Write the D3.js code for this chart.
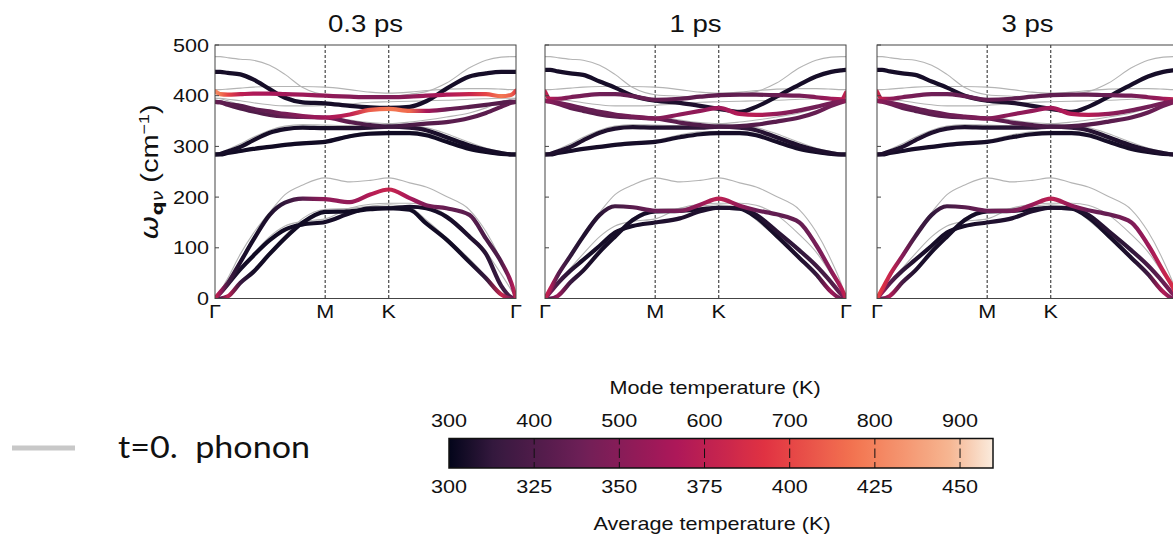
<!DOCTYPE html>
<html lang="en">
<head>
    <meta charset="UTF-8">
    <title>Phonon dispersion vs mode temperature</title>
    <script src="https://d3js.org/d3.v7.min.js"></script>
    <style>
        body { margin: 0; background: #fff; }
        svg { display: block; font-family: "Liberation Sans", Arial, sans-serif; }
    </style>
</head>
<body>
<div id="chart"></div>
<script>
// path coordinate: Γ = 0, M = 0.866, K = 1.366, Γ = 2.366
const qNodes = [0, 0.04, 0.1, 0.2, 0.3, 0.43, 0.55, 0.69, 0.866, 1.06, 1.22, 1.366, 1.53, 1.66, 1.82, 2.0, 2.13, 2.25, 2.33, 2.366];
const qTicks = [0, 0.866, 1.366, 2.366];
const qTickLabels = ["Γ", "M", "K", "Γ"];
const freqTicks = [0, 100, 200, 300, 400, 500];
const panelTitles = ["0.3 ps", "1 ps", "3 ps"];

// t = 0 phonon bands (thin gray)
const t0ZA  = [0, 0, 5, 34, 56, 92, 124, 158, 176, 178, 182, 185, 180, 155, 120, 78, 44, 12, 0, 0];
const t0TA  = [0, 11, 30, 60, 88, 122, 143, 152, 157, 178, 186, 188, 188, 184, 165, 126, 92, 48, 16, 0];
const t0LA  = [0, 14, 40, 88, 128, 170, 205, 224, 238, 230, 233, 238, 228, 220, 201, 175, 132, 75, 28, 0];
const t0Eb  = [287, 287, 289, 293, 297, 301, 305, 309, 312, 323, 329, 330, 330, 326, 314, 300, 292, 288, 287, 287];
const t0Ea  = [287, 288, 294, 305, 318, 332, 340, 343, 342, 341, 341, 342, 341, 337, 325, 308, 297, 290, 287, 287];
const t0Ed  = [395, 394, 390, 382, 375, 368, 363, 360, 359, 352, 347, 345, 348, 352, 358, 366, 376, 388, 393, 395];
const t0Ec  = [395, 395, 393, 390, 386, 382, 380, 380, 381, 384, 387, 388, 389, 390, 391, 393, 394, 395, 395, 395];
const t0A1  = [412, 412, 413, 415, 417, 418, 418, 418, 417, 412, 407, 405, 407, 410, 413, 414, 414, 413, 412, 412];
const t0A2  = [477, 477, 475, 472, 470, 460, 442, 416, 402, 399, 398, 398, 403, 408, 425, 455, 470, 476, 477, 477];

// bands at 0.3 ps
const za03 = [0, 0, 4, 31, 52, 88, 119, 150, 171, 172, 176, 178, 175, 148, 116, 72, 40, 8, 0, 0];
const ta03 = [0, 10, 28, 58, 84, 115, 136, 146, 151, 168, 178, 178, 181, 178, 161, 122, 88, 25, 2, 0];
const la03 = [0, 12, 30, 72, 115, 165, 189, 197, 196, 190, 205, 215, 198, 184, 178, 165, 118, 72, 30, 0];
const eb03 = [284, 284, 287, 291, 295, 299, 303, 306, 309, 320, 325, 326, 326, 322, 309, 295, 289, 285, 284, 284];
const ea03 = [284, 285, 290, 299, 312, 327, 334, 337, 336, 336, 337, 339, 337, 332, 318, 302, 293, 287, 284, 284];
const ed03 = [388, 387, 382, 375, 369, 362, 359, 358, 357, 348, 342, 339, 342, 345, 348, 356, 366, 378, 386, 388];
const ec03 = [388, 387, 384, 380, 374, 369, 364, 360, 357, 363, 372, 374, 370, 370, 373, 378, 382, 386, 388, 388];
const a103 = [409, 403, 402, 403, 404, 404, 403, 402, 400, 398, 397, 397, 398, 400, 402, 403, 403, 399, 402, 410];
const a203 = [447, 447, 445, 442, 432, 413, 396, 387, 385, 380, 377, 376, 378, 389, 414, 438, 444, 447, 447, 447];

// bands at 1 ps and 3 ps
const zaLate = [0, 0, 5, 32, 55, 92, 122, 155, 172, 173, 176, 179, 177, 160, 124, 80, 48, 13, 0, 0];
const taLate = [0, 12, 30, 55, 76, 104, 130, 143, 150, 158, 172, 179, 178, 165, 133, 95, 65, 32, 8, 0];
const laLate = [0, 18, 46, 84, 122, 165, 182, 180, 173, 173, 185, 197, 183, 174, 166, 150, 106, 54, 20, 0];
const ebLate = [284, 284, 287, 291, 295, 299, 303, 306, 309, 318, 324, 326, 326, 322, 309, 295, 289, 285, 284, 284];
const eaLate = [284, 285, 290, 299, 312, 327, 335, 338, 337, 337, 337, 339, 337, 332, 318, 302, 293, 287, 284, 284];
const edLate = [390, 388, 384, 376, 370, 363, 359, 357, 355, 347, 342, 339, 340, 343, 349, 357, 367, 380, 387, 390];
const ecLate = [390, 389, 386, 381, 375, 368, 363, 359, 355, 363, 370, 376, 364, 362, 364, 371, 378, 385, 389, 390];
const a1Late = [408, 394, 394, 397, 400, 403, 403, 399, 392, 394, 398, 401, 402, 402, 401, 400, 397, 394, 393, 406];
const a2Late = [451, 451, 448, 444, 441, 428, 416, 400, 390, 386, 380, 374, 368, 378, 398, 422, 438, 447, 450, 451];

// mode temperatures (K) along each band
const tZa03 = [400, 400, 600, 360, 320, 315, 315, 315, 315, 315, 315, 315, 315, 315, 315, 320, 350, 620, 480, 400];
const tTa03 = [580, 460, 340, 320, 315, 315, 315, 315, 320, 320, 320, 320, 320, 320, 320, 330, 340, 360, 400, 430];
const tLa03 = [620, 540, 380, 330, 320, 330, 350, 420, 520, 520, 580, 620, 560, 480, 440, 420, 390, 400, 540, 620];
const tEb03 = [315, 315, 315, 315, 315, 315, 315, 315, 315, 315, 315, 315, 315, 315, 315, 315, 315, 315, 315, 315];
const tEa03 = [320, 320, 320, 320, 320, 320, 320, 320, 320, 330, 340, 350, 340, 330, 320, 320, 320, 320, 320, 320];
const tEd03 = [440, 430, 410, 400, 400, 410, 430, 460, 480, 420, 390, 370, 390, 410, 420, 420, 420, 430, 440, 440];
const tEc03 = [440, 430, 420, 410, 420, 440, 470, 510, 550, 600, 740, 780, 760, 560, 450, 420, 410, 410, 420, 440];
const tA103 = [820, 780, 700, 600, 570, 560, 550, 540, 520, 500, 490, 490, 510, 540, 570, 620, 700, 780, 740, 680];
const tA203 = [320, 320, 320, 320, 320, 320, 320, 320, 320, 320, 320, 320, 320, 320, 320, 320, 320, 320, 320, 320];

const tZa1 = [420, 420, 540, 360, 330, 320, 320, 320, 320, 320, 320, 320, 320, 320, 320, 330, 350, 540, 440, 400];
const tTa1 = [560, 480, 380, 340, 320, 320, 320, 320, 330, 330, 330, 330, 330, 330, 340, 350, 370, 400, 460, 500];
const tLa1 = [620, 580, 420, 350, 330, 340, 380, 420, 450, 470, 530, 600, 520, 450, 430, 440, 470, 500, 580, 620];
const tEb1 = [320, 320, 320, 320, 320, 320, 320, 320, 320, 320, 320, 320, 320, 320, 320, 320, 320, 320, 320, 320];
const tEa1 = [330, 330, 330, 330, 330, 330, 330, 330, 330, 340, 350, 360, 350, 340, 330, 330, 330, 330, 330, 330];
const tEd1 = [480, 470, 450, 430, 420, 420, 420, 430, 440, 420, 400, 390, 400, 410, 420, 430, 440, 460, 470, 480];
const tEc1 = [520, 500, 470, 450, 440, 440, 450, 470, 490, 510, 520, 540, 580, 590, 520, 470, 460, 470, 490, 520];
const tA11 = [620, 580, 520, 480, 470, 460, 450, 440, 440, 430, 430, 430, 435, 440, 450, 470, 500, 540, 580, 620];
const tA21 = [320, 320, 320, 320, 320, 320, 320, 330, 330, 330, 330, 330, 330, 320, 320, 320, 320, 320, 320, 320];

const tZa3 = [450, 430, 580, 380, 330, 320, 320, 320, 320, 320, 320, 320, 320, 320, 320, 330, 370, 580, 460, 420];
const tTa3 = [620, 540, 420, 350, 330, 320, 320, 320, 330, 330, 330, 330, 330, 330, 340, 350, 390, 440, 500, 540];
const tLa3 = [700, 660, 620, 500, 380, 350, 380, 420, 450, 470, 530, 600, 520, 450, 440, 480, 540, 610, 650, 680];
const tEb3 = [320, 320, 320, 320, 320, 320, 320, 320, 320, 320, 320, 320, 320, 320, 320, 320, 320, 320, 320, 320];
const tEa3 = [330, 330, 330, 330, 330, 330, 330, 330, 330, 340, 350, 360, 350, 340, 330, 330, 330, 330, 330, 330];
const tEd3 = [480, 470, 450, 430, 420, 420, 420, 430, 440, 420, 400, 390, 400, 410, 420, 430, 440, 460, 470, 480];
const tEc3 = [520, 500, 470, 450, 440, 440, 450, 470, 490, 510, 520, 550, 580, 590, 520, 470, 460, 470, 490, 520];
const tA13 = [640, 600, 520, 480, 470, 460, 450, 440, 440, 430, 430, 430, 435, 440, 450, 470, 500, 540, 600, 640];
const tA23 = [320, 320, 320, 320, 320, 320, 320, 330, 330, 330, 330, 330, 330, 320, 320, 320, 320, 320, 320, 320];

// colour bar
const modeTicks = [300, 400, 500, 600, 700, 800, 900];
const avgTicks = [300, 325, 350, 375, 400, 425, 450];
const modeRange = [300, 938.7];
const avgRange = [300, 459.7];

// seaborn "rocket"
const rocketColors = ["#03051a", "#35193e", "#701f57", "#ad1759", "#e13342", "#f37651", "#f6b48f", "#faebdd"];
const rocketPos = [0, 0.083, 0.25, 0.417, 0.583, 0.75, 0.917, 1];

const t0Bands = [t0ZA, t0TA, t0LA, t0Eb, t0Ea, t0Ed, t0Ec, t0A1, t0A2];
const panels = [
    { title: panelTitles[0], left: 215, bands: [za03, ta03, la03, eb03, ea03, ed03, ec03, a103, a203],
      temps: [tZa03, tTa03, tLa03, tEb03, tEa03, tEd03, tEc03, tA103, tA203] },
    { title: panelTitles[1], left: 545, bands: [zaLate, taLate, laLate, ebLate, eaLate, edLate, ecLate, a1Late, a2Late],
      temps: [tZa1, tTa1, tLa1, tEb1, tEa1, tEd1, tEc1, tA11, tA21] },
    { title: panelTitles[2], left: 877, bands: [zaLate, taLate, laLate, ebLate, eaLate, edLate, ecLate, a1Late, a2Late],
      temps: [tZa3, tTa3, tLa3, tEb3, tEa3, tEd3, tEc3, tA13, tA23] }
];

const width = 1173, height = 537;
const panelTop = 45, panelW = 301, panelH = 253.5;
const SX = 1.2; // text in the figure is a bit wider than normal

const color = d3.scaleLinear()
    .domain(rocketPos.map(p => modeRange[0] + p * (modeRange[1] - modeRange[0])))
    .range(rocketColors)
    .interpolate(d3.interpolateRgb)
    .clamp(true);

const svg = d3.select("#chart").append("svg")
    .attr("width", width)
    .attr("height", height);
const defs = svg.append("defs");

function addText(parent, x, y, str, size, anchor) {
    return parent.append("text")
        .attr("transform", `translate(${x},${y}) scale(${SX},1)`)
        .attr("text-anchor", anchor || "middle")
        .attr("font-size", size)
        .attr("fill", "#111")
        .text(str);
}

const x = d3.scaleLinear().domain([0, 2.366]).range([0, panelW]);
const y = d3.scaleLinear().domain([0, 500]).range([panelH, 0]);
const line = d3.line()
    .x(d => x(d[0]))
    .y(d => y(d[1]))
    .curve(d3.curveMonotoneX);

panels.forEach((p, pi) => {
    const g = svg.append("g").attr("transform", `translate(${p.left},${panelTop})`);

    defs.append("clipPath").attr("id", "clip" + pi)
        .append("rect").attr("width", panelW).attr("height", panelH);

    addText(svg, p.left + panelW / 2, 31.5, p.title, 23);

    const plot = g.append("g").attr("clip-path", `url(#clip${pi})`);

    // high-symmetry lines
    plot.selectAll("line.sym")
        .data(qTicks.slice(1, 3))
        .enter().append("line")
        .attr("x1", d => x(d)).attr("x2", d => x(d))
        .attr("y1", 0).attr("y2", panelH)
        .attr("stroke", "#222")
        .attr("stroke-width", 1)
        .attr("stroke-dasharray", "3,2");

    // t = 0 bands
    plot.selectAll("path.t0")
        .data(t0Bands)
        .enter().append("path")
        .attr("d", b => line(b.map((f, i) => [qNodes[i], f])))
        .attr("fill", "none")
        .attr("stroke", "#b4b4b4")
        .attr("stroke-width", 1.1);

    // coloured bands, cooler ones underneath
    const order = d3.range(p.bands.length).sort((a, b) => d3.mean(p.temps[a]) - d3.mean(p.temps[b]));
    order.forEach(bi => {
        const gid = `grad${pi}_${bi}`;
        const grad = defs.append("linearGradient")
            .attr("id", gid)
            .attr("gradientUnits", "userSpaceOnUse")
            .attr("x1", 0).attr("x2", panelW)
            .attr("y1", 0).attr("y2", 0);
        grad.selectAll("stop")
            .data(p.temps[bi])
            .enter().append("stop")
            .attr("offset", (t, i) => qNodes[i] / 2.366)
            .attr("stop-color", t => color(t));
        plot.append("path")
            .attr("d", line(p.bands[bi].map((f, i) => [qNodes[i], f])))
            .attr("fill", "none")
            .attr("stroke", `url(#${gid})`)
            .attr("stroke-width", 4.2)
            .attr("stroke-linecap", "round")
            .attr("stroke-linejoin", "round");
    });

    // frame and inward ticks
    g.append("rect")
        .attr("width", panelW).attr("height", panelH)
        .attr("fill", "none")
        .attr("stroke", "#444")
        .attr("stroke-width", 1);
    g.selectAll("line.ytick")
        .data(freqTicks)
        .enter().append("line")
        .attr("x1", 0).attr("x2", 4)
        .attr("y1", d => y(d)).attr("y2", d => y(d))
        .attr("stroke", "#444");

    qTicks.forEach((q, i) => {
        addText(g, x(q), panelH + 19, qTickLabels[i], 18);
    });

    if (pi === 0) {
        freqTicks.forEach(f => addText(g, -6, y(f) + 6.5, f, 18, "end"));
    }
});

// y axis label
const yl = svg.append("text")
    .attr("transform", "translate(158,172) rotate(-90) scale(1.38,1.15)")
    .attr("text-anchor", "middle")
    .attr("font-size", 21)
    .attr("fill", "#111");
yl.append("tspan").attr("font-family", "DejaVu Sans").attr("font-style", "italic").text("ω");
yl.append("tspan").attr("font-family", "DejaVu Sans").attr("font-weight", "bold").attr("font-size", 14).attr("dy", 4).text("q");
yl.append("tspan").attr("font-family", "DejaVu Sans").attr("font-style", "italic").attr("font-size", 14).text("ν");
yl.append("tspan").attr("dy", -4).text(" (cm");
yl.append("tspan").attr("font-size", 13).attr("dy", -8).text("−1");
yl.append("tspan").attr("dy", 8).text(")");

// colour bar
const cbX = d3.scaleLinear().domain(modeRange).range([449, 993]);
const cbAvg = d3.scaleLinear().domain(avgRange).range([449, 993]);
const cbTop = 438.5, cbH = 29.5;

const cbGrad = defs.append("linearGradient").attr("id", "cbgrad")
    .attr("x1", 0).attr("x2", 1).attr("y1", 0).attr("y2", 0);
cbGrad.selectAll("stop")
    .data(d3.range(0, 1.0001, 0.02))
    .enter().append("stop")
    .attr("offset", d => d)
    .attr("stop-color", d => color(modeRange[0] + d * (modeRange[1] - modeRange[0])));

svg.append("rect")
    .attr("x", cbX(modeRange[0])).attr("y", cbTop)
    .attr("width", cbX(modeRange[1]) - cbX(modeRange[0])).attr("height", cbH)
    .attr("fill", "url(#cbgrad)")
    .attr("stroke", "#111")
    .attr("stroke-width", 1.5);

svg.selectAll("line.cbtick")
    .data(modeTicks.slice(1))
    .enter().append("line")
    .attr("x1", d => cbX(d)).attr("x2", d => cbX(d))
    .attr("y1", cbTop).attr("y2", cbTop + cbH)
    .attr("stroke", "#111")
    .attr("stroke-width", 1)
    .attr("stroke-dasharray", "6,4,9.5,4,6");

modeTicks.forEach(t => addText(svg, cbX(t), 427, t, 18));
avgTicks.forEach(t => addText(svg, cbAvg(t), 493, t, 18));
addText(svg, 715, 394, "Mode temperature (K)", 18);
addText(svg, 712, 530, "Average temperature (K)", 18);

// legend for the t = 0 bands
svg.append("line")
    .attr("x1", 12).attr("x2", 75)
    .attr("y1", 448).attr("y2", 448)
    .attr("stroke", "#c8c8c8")
    .attr("stroke-width", 5);
svg.append("text")
    .attr("x", 118).attr("y", 458)
    .attr("font-family", "Lato, 'Open Sans', sans-serif")
    .attr("font-size", 30)
    .attr("fill", "#111")
    .attr("textLength", 192)
    .attr("lengthAdjust", "spacingAndGlyphs")
    .style("white-space", "pre")
    .text("t=0.  phonon");
</script>
</body>
</html>
